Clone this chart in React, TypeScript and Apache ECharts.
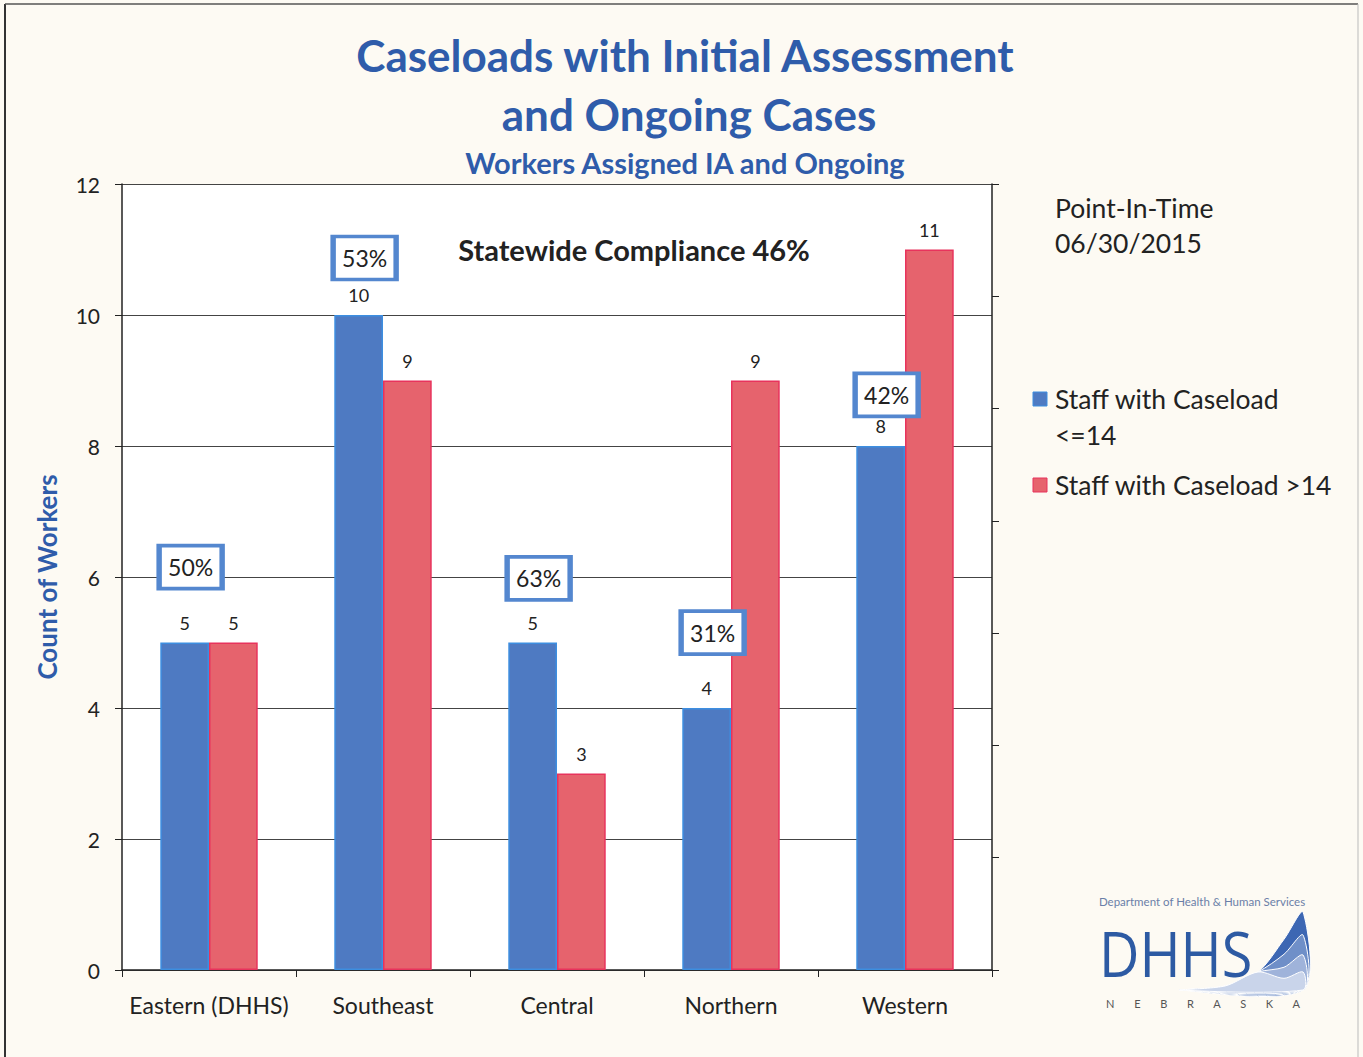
import React, { useEffect, useRef } from "react";
import * as echarts from "echarts";

const categories = ["Eastern (DHHS)", "Southeast", "Central", "Northern", "Western"];
const seriesNames = ["Staff with Caseload <=14", "Staff with Caseload >14"];
const lowCaseload = [5, 10, 5, 4, 8];
const highCaseload = [5, 9, 3, 9, 11];
const complianceLabels = ["50%", "53%", "63%", "31%", "42%"];
const complianceBoxY = [6.15, 10.87, 5.98, 5.15, 8.78];
const titleLines = ["Caseloads with Initial Assessment", "and Ongoing Cases"];
const subtitle = "Workers Assigned IA and Ongoing";
const statewide = "Statewide Compliance 46%";
const pointInTime = ["Point-In-Time", "06/30/2015"];

const FONT = "Lato, 'Open Sans', sans-serif";
const BLUE_TXT = "#2f5caa";
const BAR_BLUE = "#4e7ac2";
const BAR_RED = "#e6636d";

export default function App() {
  const ref = useRef<HTMLDivElement>(null);
  useEffect(() => {
    if (!ref.current) return;
    const chart = echarts.init(ref.current, undefined, { renderer: "svg" });
    const swoosh = (yEnd: number, color: string) => ({
      type: "polygon",
      shape: {
        points: [
          [1180, 990],
          [1225, 986],
          [1258, 972],
          [1284, yEnd + (990 - yEnd) * 0.35],
          [1303, yEnd],
          [1303, 990],
        ],
        smooth: 0.3,
      },
      style: { fill: color, stroke: "#ffffff", lineWidth: 1 },
    });
    chart.setOption({
      animation: false,
      backgroundColor: "#fdfaf3",
      grid: { left: 122, right: 371, top: 184, bottom: 87, show: true, backgroundColor: "#ffffff", borderWidth: 0 },
      xAxis: {
        type: "category",
        data: categories,
        axisLine: { lineStyle: { color: "#222", width: 1.5 } },
        axisTick: { show: true, alignWithLabel: false, length: 7, inside: false, lineStyle: { color: "#222" } },
        axisLabel: { interval: 0, fontFamily: FONT, fontSize: 23, color: "#222", margin: 23 },
      },
      yAxis: [
        {
          type: "value",
          min: 0,
          max: 12,
          interval: 2,
          name: "Count of Workers",
          nameLocation: "middle",
          nameGap: 62,
          nameRotate: 90,
          nameTextStyle: { fontFamily: FONT, fontSize: 26, fontWeight: "bold", color: BLUE_TXT },
          axisLine: { show: true, lineStyle: { color: "#222", width: 1.5 } },
          axisTick: { show: true, length: 7, lineStyle: { color: "#222" } },
          axisLabel: { fontFamily: FONT, fontSize: 21, color: "#222", margin: 22 },
          splitLine: { lineStyle: { color: "#444", width: 1 } },
        },
        {
          type: "value",
          min: 0,
          max: 7,
          interval: 1,
          position: "right",
          axisLine: { show: true, lineStyle: { color: "#222", width: 1.5 } },
          axisTick: { show: true, length: 7, lineStyle: { color: "#222" } },
          axisLabel: { show: false },
          splitLine: { show: false },
        },
      ],
      series: [
        {
          name: seriesNames[0],
          type: "bar",
          data: lowCaseload,
          barGap: "0%",
          barCategoryGap: "44%",
          itemStyle: { color: BAR_BLUE, borderColor: "#3d8ee0", borderWidth: 1.5 },
          label: { show: true, position: "top", distance: 11, fontFamily: FONT, fontSize: 18, color: "#222" },
          markPoint: {
            symbol: "rect",
            symbolSize: [63, 43],
            symbolOffset: [6, 0],
            itemStyle: { color: "#ffffff", borderColor: "#5487cf", borderWidth: 4.5 },
            label: { show: true, position: "inside", formatter: "{b}", fontFamily: FONT, fontSize: 23, color: "#222" },
            z: 10,
            data: categories.map((c, i) => ({ name: complianceLabels[i], coord: [c, complianceBoxY[i]] })),
          },
        },
        {
          name: seriesNames[1],
          type: "bar",
          data: highCaseload,
          itemStyle: { color: BAR_RED, borderColor: "#e8335c", borderWidth: 1.5 },
          label: { show: true, position: "top", distance: 11, fontFamily: FONT, fontSize: 18, color: "#222" },
        },
      ],
      graphic: [
        { type: "line", shape: { x1: 5, y1: 4, x2: 5, y2: 1057 }, style: { stroke: "#333", lineWidth: 2 } },
        { type: "line", shape: { x1: 5, y1: 4, x2: 1358, y2: 4 }, style: { stroke: "#555", lineWidth: 1.5 } },
        { type: "line", shape: { x1: 1358, y1: 4, x2: 1358, y2: 1057 }, style: { stroke: "#bbb", lineWidth: 1 } },
        {
          type: "text", x: 685, y: 55,
          style: { text: titleLines[0], textAlign: "center", textVerticalAlign: "middle", font: `bold 44px ${FONT}`, fill: BLUE_TXT },
        },
        {
          type: "text", x: 689, y: 114,
          style: { text: titleLines[1], textAlign: "center", textVerticalAlign: "middle", font: `bold 44px ${FONT}`, fill: BLUE_TXT },
        },
        {
          type: "text", x: 685, y: 162,
          style: { text: subtitle, textAlign: "center", textVerticalAlign: "middle", font: `bold 29px ${FONT}`, fill: BLUE_TXT },
        },
        {
          type: "text", x: 634, y: 249, z: 20,
          style: { text: statewide, textAlign: "center", textVerticalAlign: "middle", font: `bold 29px ${FONT}`, fill: "#222" },
        },
        {
          type: "text", x: 1055, y: 208,
          style: { text: pointInTime[0], textVerticalAlign: "middle", font: `26.5px ${FONT}`, fill: "#222" },
        },
        {
          type: "text", x: 1055, y: 243,
          style: { text: pointInTime[1], textVerticalAlign: "middle", font: `26.5px ${FONT}`, fill: "#222" },
        },
        { type: "rect", shape: { x: 1033, y: 392, width: 14, height: 14 }, style: { fill: BAR_BLUE, stroke: "#3d8ee0", lineWidth: 1 } },
        {
          type: "text", x: 1055, y: 399,
          style: { text: "Staff with Caseload", textVerticalAlign: "middle", font: `26.5px ${FONT}`, fill: "#222" },
        },
        {
          type: "text", x: 1055, y: 435,
          style: { text: "<=14", textVerticalAlign: "middle", font: `26.5px ${FONT}`, fill: "#222" },
        },
        { type: "rect", shape: { x: 1033, y: 478, width: 14, height: 14 }, style: { fill: BAR_RED, stroke: "#e8335c", lineWidth: 1 } },
        {
          type: "text", x: 1055, y: 485,
          style: { text: seriesNames[1], textVerticalAlign: "middle", font: `26.5px ${FONT}`, fill: "#222" },
        },
        // DHHS logo
        {
          type: "text", x: 1202, y: 901,
          style: { text: "Department of Health & Human Services", textAlign: "center", textVerticalAlign: "middle", font: `11.5px ${FONT}`, fill: "#6b7fa8" },
        },
        swoosh(912, "#3d67b3"),
        swoosh(935, "#6f8fc8"),
        swoosh(955, "#9fb3da"),
        swoosh(972, "#c9d4ea"),
        {
          type: "text", x: 1099, y: 953, scaleX: 0.9,
          style: { text: "DHHS", textVerticalAlign: "middle", font: `62px 'Open Sans', ${FONT}`, fill: "#2d5aa3" },
        },
        {
          type: "text", x: 1203, y: 1003,
          style: { text: "N       E       B       R       A       S       K       A", textAlign: "center", textVerticalAlign: "middle", font: `11px ${FONT}`, fill: "#555" },
        },
      ],
    });
    return () => chart.dispose();
  }, []);
  return <div ref={ref} style={{ position: "fixed", left: 0, top: 0, width: 1363, height: 1057 }} />;
}
